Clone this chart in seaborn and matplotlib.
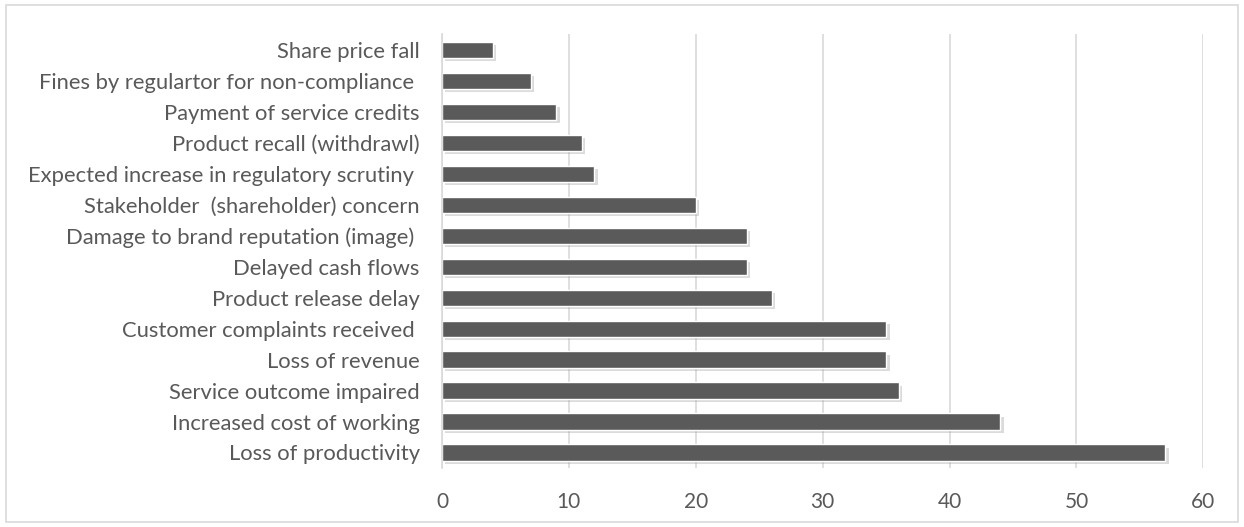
import pandas as pd
import matplotlib.pyplot as plt
import matplotlib.patheffects as pe
from matplotlib.patches import Rectangle
import seaborn as sns

# 数据（从上到下）
categories = [
    'Share price fall',
    'Fines by regulartor for non-compliance ',
    'Payment of service credits',
    'Product recall (withdrawl)',
    'Expected increase in regulatory scrutiny ',
    'Stakeholder  (shareholder) concern',
    'Damage to brand reputation (image) ',
    'Delayed cash flows',
    'Product release delay',
    'Customer complaints received ',
    'Loss of revenue',
    'Service outcome impaired',
    'Increased cost of working',
    'Loss of productivity',
]
values = [4, 7, 9, 11, 12, 20, 24, 24, 26, 35, 35, 36, 44, 57]
xticks = [0, 10, 20, 30, 40, 50, 60]

df = pd.DataFrame({'category': categories, 'value': values})

sns.set_theme(style='white')
plt.rcParams['font.family'] = ['Lato', 'DejaVu Sans']

fig = plt.figure(figsize=(12.44, 5.27), dpi=100)
ax = fig.add_axes([0.3553, 0.112, 0.612, 0.823])

sns.barplot(data=df, x='value', y='category', orient='h', color='#5a5a5a',
            width=0.52, saturation=1, ax=ax)

for bar in ax.patches:
    bar.set_path_effects([pe.SimplePatchShadow(offset=(2.5, -2.5), shadow_rgbFace='#9a9a9a', alpha=0.35),
                          pe.Normal()])

ax.set_xlim(0, 60)
ax.set_xticks(xticks)
ax.set_xlabel('')
ax.set_ylabel('')
ax.xaxis.grid(True, color='#d9d9d9', linewidth=1.2)
ax.set_axisbelow(True)
for s in ['top', 'right', 'bottom']:
    ax.spines[s].set_visible(False)
ax.spines['left'].set_color('#d9d9d9')
ax.spines['left'].set_linewidth(1.2)
ax.tick_params(axis='both', length=0, labelsize=15.8, colors='#595959')
ax.tick_params(axis='x', labelsize=15, pad=17)
ax.tick_params(axis='y', pad=16)

# 外框
fig.patches.append(Rectangle((0.005, 0.01), 0.99, 0.98, transform=fig.transFigure,
                             fill=False, edgecolor='#d9d9d9', linewidth=1.2))

plt.savefig('out.png', dpi=100)
plt.close()
